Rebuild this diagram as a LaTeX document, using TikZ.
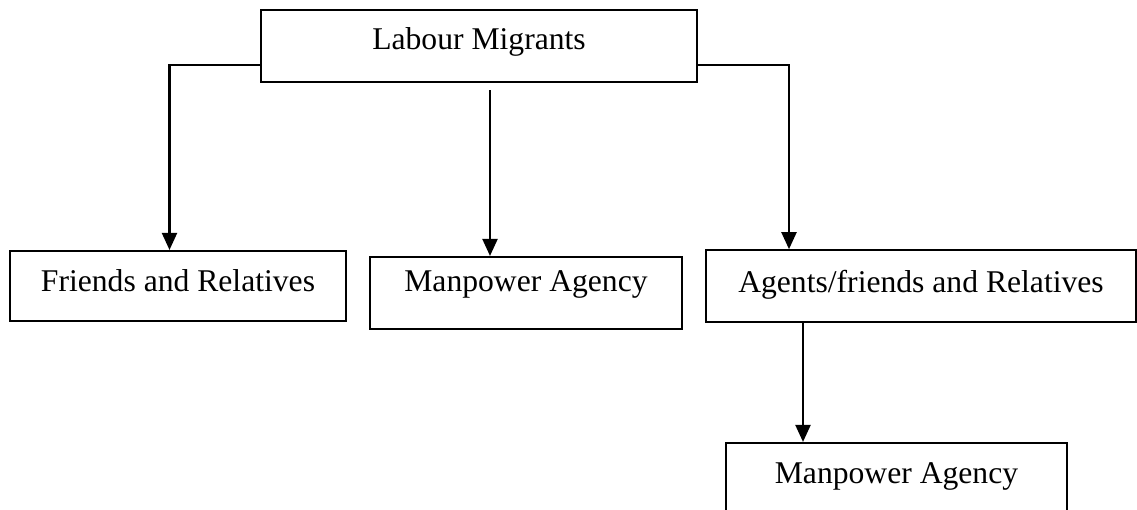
\documentclass[tikz,border=0pt]{standalone}
\usepackage{fontspec}
\setmainfont{Liberation Serif}
\usetikzlibrary{arrows.meta}

\begin{document}
\begin{tikzpicture}[
    font=\fontsize{18}{22}\selectfont,
    box/.style={
        draw=black,
        fill=white,
        line width=1.2pt,
        inner sep=0pt,
        minimum height=1.44cm,
        text height=0.42cm,
        align=center
    },
    flow/.style={-{Triangle[length=0.34cm,width=0.3cm]},line width=1.2pt}
]
\useasboundingbox (0,0) rectangle (22.74,-10.2);

% Source of the migration
\node[box,minimum width=8.72cm,text depth=0.26cm] (migrants) at (9.58,-0.92) {Labour Migrants};

% Three channels
\node[box,minimum width=6.72cm,minimum height=1.40cm,text depth=0.18cm] (friends) at (3.56,-5.72) {Friends and Relatives};
\node[box,minimum width=6.24cm,text depth=0.46cm] (agency) at (10.52,-5.86) {Manpower Agency};
\node[box,minimum width=8.6cm,minimum height=1.43cm,text depth=0.16cm] (agents) at (18.42,-5.72) {Agents/friends and Relatives};

% Second step of the agents channel
\node[box,minimum width=6.82cm,text depth=0.22cm] (agencytwo) at (17.93,-9.58) {Manpower Agency};

% Connectors
\draw[flow] ([yshift=-0.38cm]migrants.west) -| ([xshift=-0.17cm]friends.north);
\draw[flow] ([xshift=0.22cm,yshift=-0.14cm]migrants.south) -- ([xshift=0.22cm]migrants.south |- agency.north);
\draw[flow] ([yshift=-0.38cm]migrants.east) -| ([xshift=-2.64cm]agents.north);
\draw[flow] ([xshift=-2.36cm]agents.south) -- ([xshift=-2.36cm]agents.south |- agencytwo.north);

\end{tikzpicture}
\end{document}
